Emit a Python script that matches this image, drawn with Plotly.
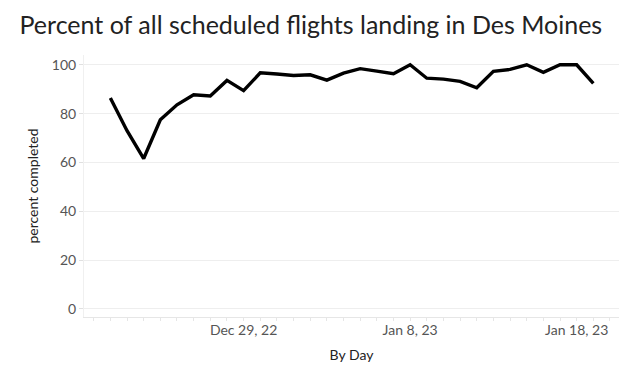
import plotly.graph_objects as go

dates = ["2022-12-21", "2022-12-22", "2022-12-23", "2022-12-24", "2022-12-25", "2022-12-26",
         "2022-12-27", "2022-12-28", "2022-12-29", "2022-12-30", "2022-12-31", "2023-01-01",
         "2023-01-02", "2023-01-03", "2023-01-04", "2023-01-05", "2023-01-06", "2023-01-07",
         "2023-01-08", "2023-01-09", "2023-01-10", "2023-01-11", "2023-01-12", "2023-01-13",
         "2023-01-14", "2023-01-15", "2023-01-16", "2023-01-17", "2023-01-18", "2023-01-19"]
percent_completed = [86.4, 73.0, 61.6, 77.5, 83.6, 87.7, 87.2, 93.6, 89.4, 96.7,
                     96.2, 95.6, 95.9, 93.7, 96.6, 98.4, 97.4, 96.3, 100.0, 94.5,
                     94.1, 93.2, 90.6, 97.3, 98.1, 100.0, 96.9, 100.0, 100.0, 92.4]
x_tick_vals = ["2022-12-29", "2023-01-08", "2023-01-18"]
x_tick_text = ["Dec 29, 22", "Jan 8, 23", "Jan 18, 23"]
y_tick_vals = [0, 20, 40, 60, 80, 100]

fig = go.Figure()
fig.add_trace(go.Scatter(
    x=dates, y=percent_completed, mode="lines",
    line=dict(color="black", width=3.4),
    showlegend=False,
))

font = "Lato"
fig.update_layout(
    width=640, height=378,
    margin=dict(l=76, r=29, t=47, b=69),
    plot_bgcolor="white", paper_bgcolor="white",
    title=dict(text="Percent of all scheduled flights landing in Des Moines",
               x=0.018, xanchor="left", y=0.955, yanchor="middle",
               font=dict(family=font, size=25, color="#222")),
    xaxis=dict(
        automargin=False,
        range=["2022-12-19 10:00", "2023-01-20 13:00"],
        tickvals=x_tick_vals, ticktext=x_tick_text,
        ticks="",
        showgrid=False, zeroline=False,
        showline=True, linecolor="#e6e6e6", linewidth=1,
        tickfont=dict(family=font, size=14, color="#555"),
        minor=dict(dtick=86400000, ticks="outside", ticklen=3, tickcolor="#e6e6e6", showgrid=False),
        title=dict(text="By Day", font=dict(family=font, size=14, color="#222"), standoff=13),
    ),
    yaxis=dict(
        automargin=False,
        range=[-3.3, 104],
        tickvals=y_tick_vals,
        showgrid=True, gridcolor="#eeeeee", gridwidth=1,
        zeroline=False, showline=True, linecolor="#f0f0f0",
        ticks="outside", ticklen=4, tickcolor="#e0e0e0",
        tickfont=dict(family=font, size=14, color="#555"),
        title=dict(text="percent completed", font=dict(family=font, size=14, color="#222"), standoff=9),
    ),
)

fig.write_html("out.html")
